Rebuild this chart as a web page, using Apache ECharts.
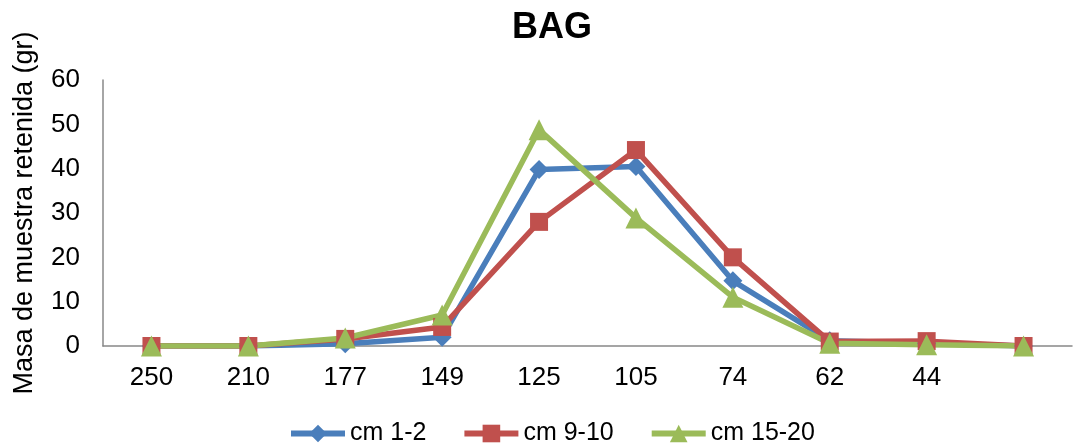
<!DOCTYPE html>
<html>
<head>
<meta charset="utf-8">
<script src="https://cdn.jsdelivr.net/npm/echarts@6/dist/echarts.min.js"></script>
<style>
html,body{margin:0;padding:0;background:#fff;}
#c{width:1074px;height:445px;}
</style>
</head>
<body>
<div id="c"></div>
<script>
var categories = ['250','210','177','149','125','105','74','62','44',''];
var s1 = [0, 0, 0.5, 2, 39.8, 40.5, 14.7, 1.2, 0.6, 0];
var s2 = [0, 0, 1.6, 4.3, 28, 44.2, 20, 1, 1.1, 0];
var s3 = [0, 0, 1.8, 7, 48.8, 28.9, 11, 0.6, 0.3, 0];
var names = ['cm 1-2','cm 9-10','cm 15-20'];
var yTicks = [0, 10, 20, 30, 40, 50, 60];

var chart = echarts.init(document.getElementById('c'));
var font = 'Liberation Sans, Arial, sans-serif';
function mk(name, data, color, symbol, size){
  return {name:name, type:'line', data:data, symbol:symbol, symbolSize:size,
    showAllSymbol:true,
    lineStyle:{color:color, width:5.5}, itemStyle:{color:color}};
}
chart.setOption({
  animation:false,
  backgroundColor:'#fff',
  title:{text:'BAG', left:507, top:5, textStyle:{fontFamily:font, fontSize:36, fontWeight:'bold', color:'#000'}},
  legend:{top:421, left:288, padding:0, itemWidth:54, itemHeight:22, itemGap:35,
    lineStyle:{width:6},
    textStyle:{fontFamily:font, fontSize:25, color:'#000'}},
  grid:{left:103, right:2, top:80, bottom:99},
  xAxis:{type:'category', data:categories, boundaryGap:true,
    axisLine:{lineStyle:{color:'#888', width:1.5}}, axisTick:{show:false},
    axisLabel:{fontFamily:font, fontSize:26, color:'#000', margin:19}},
  yAxis:{type:'value', min:yTicks[0], max:yTicks[yTicks.length-1], interval:10,
    name:'Masa de muestra retenida (gr)', nameLocation:'middle', nameGap:65,
    nameTextStyle:{fontFamily:font, fontSize:27, color:'#000'},
    axisLine:{show:true, lineStyle:{color:'#888', width:1.5}}, axisTick:{show:false},
    splitLine:{show:false},
    axisLabel:{fontFamily:font, fontSize:26, color:'#000', margin:23}},
  series:[
    mk(names[0], s1, '#4A7EBB', 'diamond', 19),
    mk(names[1], s2, '#C0504D', 'rect', 18),
    mk(names[2], s3, '#9BBB59', 'triangle', 21)
  ]
});
</script>
</body>
</html>
